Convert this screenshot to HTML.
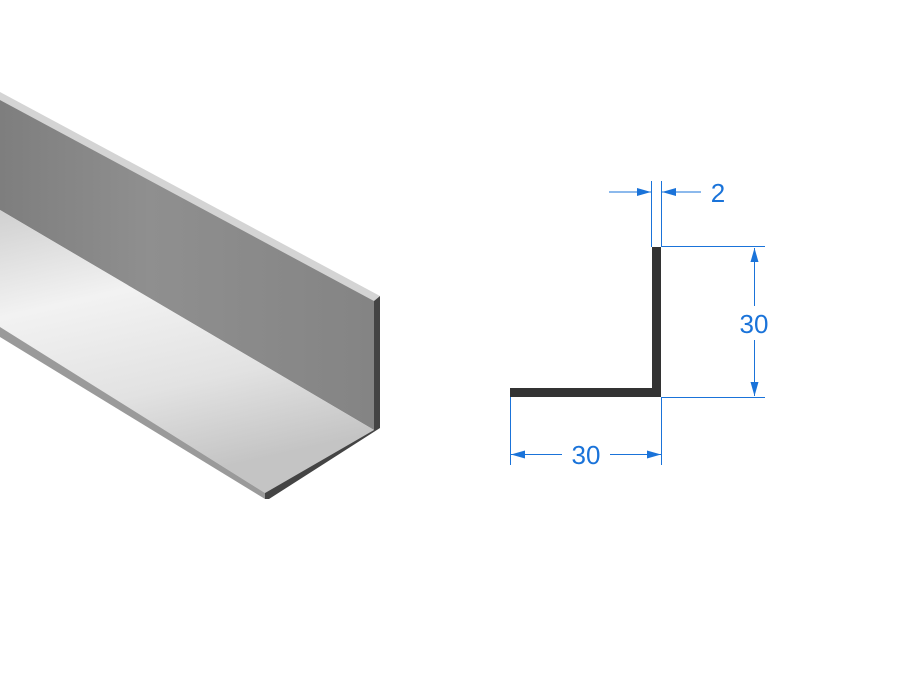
<!DOCTYPE html>
<html><head><meta charset="utf-8"><style>
html,body{margin:0;padding:0;background:#fff;width:908px;height:684px;overflow:hidden}
</style></head><body>
<svg width="908" height="684" viewBox="0 0 908 684" xmlns="http://www.w3.org/2000/svg">
<defs>
<linearGradient id="g1" x1="0" y1="0" x2="1" y2="0">
<stop offset="0" stop-color="#7e7e7e"/><stop offset="0.4" stop-color="#8f8f8f"/><stop offset="1" stop-color="#848484"/></linearGradient>
<linearGradient id="g2" x1="0" y1="0" x2="0.3" y2="1">
<stop offset="0" stop-color="#d0d0d0"/><stop offset="0.35" stop-color="#f2f2f2"/><stop offset="0.7" stop-color="#e2e2e2"/><stop offset="1" stop-color="#c4c4c4"/></linearGradient>
<marker id="a" viewBox="0 0 14 8" refX="14" refY="4" markerWidth="14" markerHeight="8" markerUnits="userSpaceOnUse" orient="auto-start-reverse"><path d="M0,0L14,4L0,8z" fill="#1a73d9"/></marker>
</defs>
<polygon points="0,92 380,296 374,301 0,100" fill="#d4d4d4"/>
<polygon points="0,100 374,301 374,430 0,210" fill="url(#g1)"/>
<polygon points="0,210 374,430 265,493 0,327" fill="url(#g2)"/>
<polygon points="0,327 265,493 265,499 0,337" fill="#9a9a9a"/>
<polygon points="374,301 380,296 380,428 269,499 265,499 265,493 374,430" fill="#444"/>
<polygon points="652,247 661,247 661,397 510,397 510,388 652,388" fill="#333"/>
<g stroke="#1a73d9" stroke-width="1" fill="none">
<line x1="651.5" y1="181" x2="651.5" y2="247"/>
<line x1="661.5" y1="181" x2="661.5" y2="247"/>
<line x1="609" y1="192" x2="651" y2="192" marker-end="url(#a)"/>
<line x1="701" y1="192" x2="662" y2="192" marker-end="url(#a)"/>
<line x1="661" y1="246.5" x2="765" y2="246.5"/>
<line x1="661" y1="397.5" x2="765" y2="397.5"/>
<line x1="754.5" y1="306" x2="754.5" y2="248" marker-end="url(#a)"/>
<line x1="754.5" y1="340" x2="754.5" y2="396" marker-end="url(#a)"/>
<line x1="510.5" y1="397" x2="510.5" y2="465"/>
<line x1="661.5" y1="397" x2="661.5" y2="465"/>
<line x1="562" y1="454.5" x2="511" y2="454.5" marker-end="url(#a)"/>
<line x1="610" y1="454.5" x2="661" y2="454.5" marker-end="url(#a)"/>
</g>
<g fill="#1a73d9" font-family="Liberation Sans, sans-serif" font-size="26" text-anchor="middle">
<text x="718" y="202">2</text>
<text x="754" y="333">30</text>
<text x="586" y="464">30</text>
</g>
</svg>
</body></html>
